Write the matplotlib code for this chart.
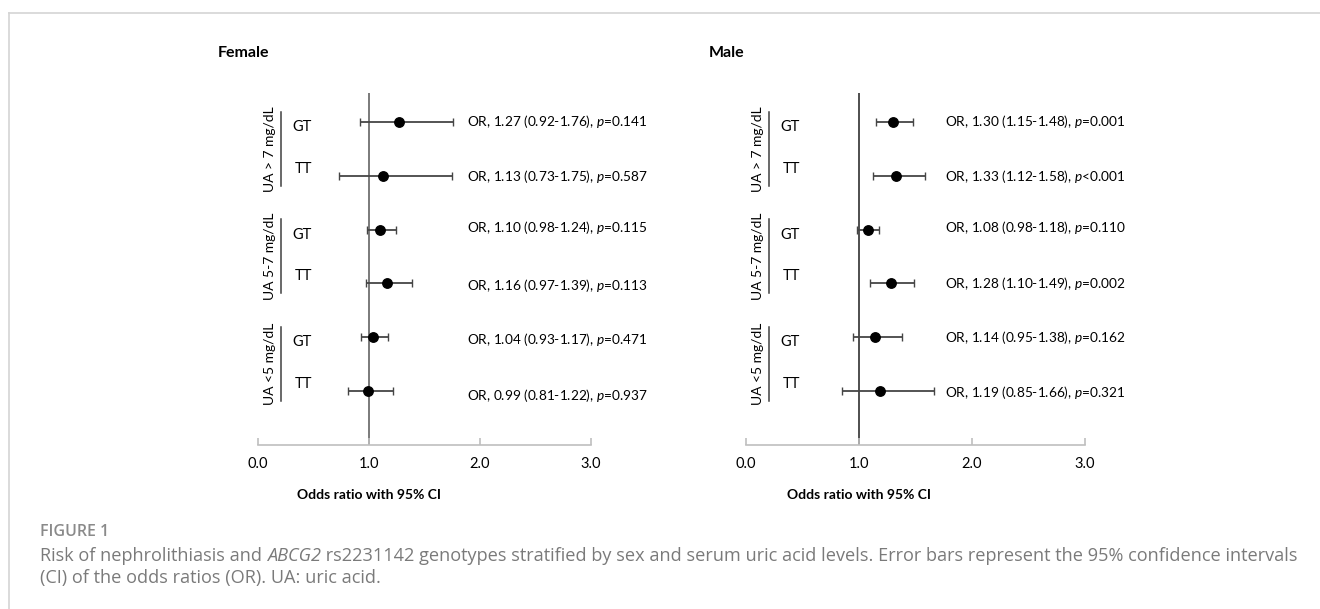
import matplotlib
matplotlib.use("Agg")
import matplotlib.pyplot as plt
from matplotlib.lines import Line2D

# ---------------- data ----------------
groups = ["UA > 7 mg/dL", "UA 5-7 mg/dL", "UA <5 mg/dL"]
genotypes = ["GT", "TT"]

female_or = [1.27, 1.13, 1.10, 1.16, 1.04, 0.99]
female_lo = [0.92, 0.73, 0.98, 0.97, 0.93, 0.81]
female_hi = [1.76, 1.75, 1.24, 1.39, 1.17, 1.22]
female_p = ["=0.141", "=0.587", "=0.115", "=0.113", "=0.471", "=0.937"]

male_or = [1.30, 1.33, 1.08, 1.28, 1.14, 1.19]
male_lo = [1.15, 1.12, 0.98, 1.10, 0.95, 0.85]
male_hi = [1.48, 1.58, 1.18, 1.49, 1.38, 1.66]
male_p = ["=0.001", "<0.001", "=0.110", "=0.002", "=0.162", "=0.321"]

xticks = [0.0, 1.0, 2.0, 3.0]
panel_titles = ["Female", "Male"]
xlabel = "Odds ratio with 95% CI"
caption_head = "FIGURE 1"
caption_line1 = [("Risk of nephrolithiasis and ", "normal"), ("ABCG2", "italic"),
                 (" rs2231142 genotypes stratified by sex and serum uric acid levels. Error bars represent the 95% confidence intervals", "normal")]
caption_line2 = "(CI) of the odds ratios (OR). UA: uric acid."

# ---------------- style ----------------
W, H = 1320, 609
FONT = "Lato"
CAPFONT = "Open Sans"
plt.rcParams["font.family"] = [FONT, "DejaVu Sans"]
plt.rcParams["mathtext.fontset"] = "custom"
plt.rcParams["mathtext.rm"] = FONT
plt.rcParams["mathtext.it"] = FONT + ":italic"

fig = plt.figure(figsize=(W / 100, H / 100), dpi=100)
fig.patch.set_facecolor("white")

def fx(px):
    return px / W

def fy(py):
    return 1 - py / H

# border
border = "#d4d4d4"
fig.add_artist(Line2D([fx(9), 1], [fy(13), fy(13)], color=border, lw=1.2, transform=fig.transFigure))
fig.add_artist(Line2D([fx(9), fx(9)], [fy(13), 0], color=border, lw=1.2, transform=fig.transFigure))

ROW0, ROWSTEP = 122, 53.8
TOP, BOTTOM = 93, 445
ORSIZE = 9.8

panels = [
    dict(x0=258, unit=111, ors=female_or, lo=female_lo, hi=female_hi, p=female_p,
         title_x=218, text_dx=98, text_dy=[0, 1, -2, 2, 2, 5], vcol="#707070"),
    dict(x0=746, unit=113, ors=male_or, lo=male_lo, hi=male_hi, p=male_p,
         title_x=709, text_dx=86, text_dy=[0, 1, -2, 0, 0, 2], vcol="#404040"),
]

for k, pn in enumerate(panels):
    x0 = pn["x0"]
    x1 = x0 + 3 * pn["unit"]
    ax = fig.add_axes([fx(x0), fy(BOTTOM), (x1 - x0) / W, (BOTTOM - TOP) / H])
    ax.set_xlim(0, 3)
    ylo = (TOP - ROW0) / ROWSTEP
    yhi = (BOTTOM - ROW0) / ROWSTEP
    ax.set_ylim(yhi, ylo)
    ax.patch.set_alpha(0)
    for s in ["top", "right", "left"]:
        ax.spines[s].set_visible(False)
    ax.spines["bottom"].set_color("#bfbfbf")
    ax.spines["bottom"].set_linewidth(1.2)
    ax.set_yticks([])
    ax.set_xticks(xticks)
    ax.set_xticklabels([f"{t:.1f}" for t in xticks])
    ax.tick_params(axis="x", direction="in", length=5, width=1.2, color="#bfbfbf",
                   pad=9, labelsize=10.5)

    ax.axvline(1.0, color=pn["vcol"], lw=1.3, zorder=1)

    rows = list(range(len(pn["ors"])))
    xerr = [[o - l for o, l in zip(pn["ors"], pn["lo"])],
            [h - o for o, h in zip(pn["ors"], pn["hi"])]]
    ax.errorbar(pn["ors"], rows, xerr=xerr, fmt="o", color="black", markersize=6.8,
                ecolor="#454545", elinewidth=1.3, capsize=3.2, capthick=1.0, zorder=3)

    u = pn["unit"]
    # group labels and brackets
    for g, name in enumerate(groups):
        c = 2 * g + 0.5
        half = 37 / ROWSTEP
        xb = 23 / u
        ax.plot([xb, xb], [c - half, c + half], color="#404040", lw=1.1, clip_on=False)
        ax.text(12 / u, c, name, rotation=90, ha="center", va="center", fontsize=10,
                clip_on=False)
        ax.text(34 / u, 2 * g + 5 / ROWSTEP, genotypes[0], ha="left", va="center",
                fontsize=10.5, clip_on=False)
        ax.text(37 / u, 2 * g + 1 - 7 / ROWSTEP, genotypes[1], ha="left", va="center",
                fontsize=10.5, clip_on=False)

    # OR annotations
    tx = 1.0 + pn["text_dx"] / u
    for i, (o, l, h, p) in enumerate(zip(pn["ors"], pn["lo"], pn["hi"], pn["p"])):
        s = f"OR, {o:.2f} ({l:.2f}-{h:.2f}), $p${p}"
        ax.text(tx, i + pn["text_dy"][i] / ROWSTEP, s, ha="left", va="center",
                fontsize=ORSIZE, clip_on=False)

    # titles / xlabel
    fig.text(fx(pn["title_x"]), fy(53), panel_titles[k], ha="left", va="center",
             fontsize=11.5, fontweight="bold")
    fig.text(fx(x0 + u), fy(495), xlabel, ha="center", va="center", fontsize=10,
             fontweight="bold")

# caption
CAPSIZE = 13.1
capcol = "#7a7a7a"
fig.text(fx(40), fy(532), caption_head, ha="left", va="center", fontsize=11.5,
         family=CAPFONT, fontweight="semibold", color="#8a8a8a")

renderer = fig.canvas.get_renderer()

def seg_width(s, style):
    t1 = fig.text(0, 0, "x" + s + "x", fontsize=CAPSIZE, family=CAPFONT, style=style)
    t2 = fig.text(0, 0, "xx", fontsize=CAPSIZE, family=CAPFONT, style=style)
    w = t1.get_window_extent(renderer).width - t2.get_window_extent(renderer).width
    t1.remove(); t2.remove()
    return w

xpos = 40
for s, style in caption_line1:
    fig.text(fx(xpos), fy(556), s, ha="left", va="center",
             fontsize=CAPSIZE, family=CAPFONT, style=style, color=capcol)
    xpos += seg_width(s, style)
fig.text(fx(40), fy(578), caption_line2, ha="left", va="center", fontsize=CAPSIZE,
         family=CAPFONT, color=capcol)

fig.savefig("out.png", dpi=100)
